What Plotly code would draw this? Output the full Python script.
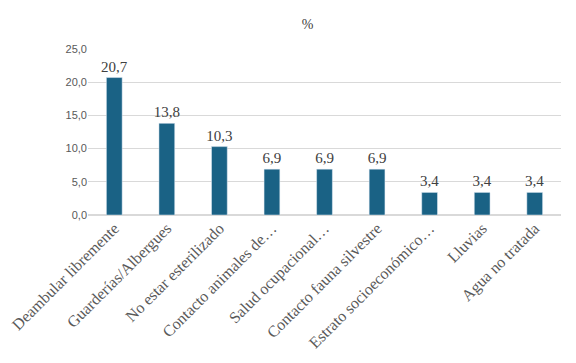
import plotly.graph_objects as go

categories = ["Deambular libremente", "Guarderías/Albergues", "No estar esterilizado",
              "Contacto animales de…", "Salud ocupacional…", "Contacto fauna silvestre",
              "Estrato socioeconómico…", "Lluvias", "Agua no tratada"]
values = [20.7, 13.8, 10.3, 6.9, 6.9, 6.9, 3.4, 3.4, 3.4]
labels = ["20,7", "13,8", "10,3", "6,9", "6,9", "6,9", "3,4", "3,4", "3,4"]

fig = go.Figure(go.Bar(
    x=categories, y=values, text=labels, textposition="outside",
    constraintext="none",
    textfont=dict(family="Liberation Serif", size=15, color="#404040"),
    marker=dict(color="#1a6285"), width=0.3, cliponaxis=False,
))

fig.update_layout(
    width=576, height=363,
    margin=dict(l=80, r=23, t=41, b=156, autoexpand=False),
    paper_bgcolor="white", plot_bgcolor="white",
    separators=",.",
    showlegend=False,
    title=dict(text="%", x=0.52, xanchor="center", y=0.956, yanchor="middle",
               font=dict(family="Liberation Serif", size=14, color="#404040")),
    xaxis=dict(tickangle=-45, showgrid=False, showline=False, ticks="", automargin=False,
               tickfont=dict(family="Liberation Serif", size=16, color="#595959")),
    yaxis=dict(range=[0, 25], dtick=5, tickformat=".1f", showgrid=True, automargin=False,
               gridcolor="#d9d9d9", gridwidth=1, zeroline=True, zerolinecolor="#d9d9d9",
               showline=False, ticks="", ticklen=0,
               tickfont=dict(family="Liberation Sans", size=11, color="#595959")),
)

fig.write_html("out.html")
